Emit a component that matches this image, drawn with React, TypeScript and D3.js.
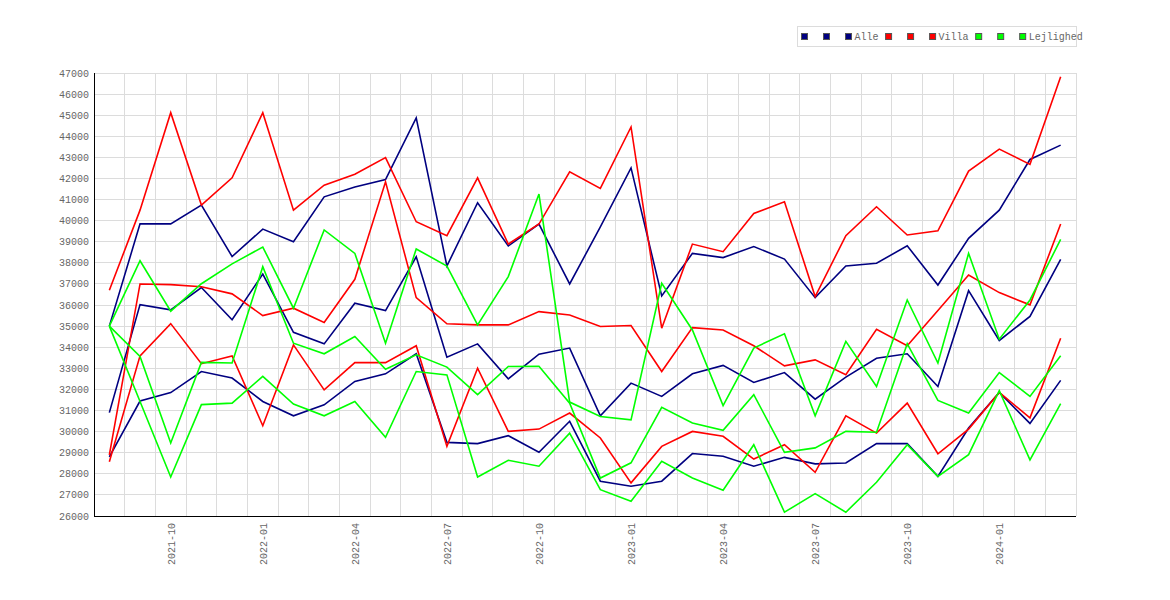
import React, { useEffect, useRef } from 'react';
import * as d3 from 'd3';

const months = [
  '2021-08', '2021-09', '2021-10', '2021-11', '2021-12', '2022-01', '2022-02', '2022-03',
  '2022-04', '2022-05', '2022-06', '2022-07', '2022-08', '2022-09', '2022-10', '2022-11',
  '2022-12', '2023-01', '2023-02', '2023-03', '2023-04', '2023-05', '2023-06', '2023-07',
  '2023-08', '2023-09', '2023-10', '2023-11', '2023-12', '2024-01', '2024-02', '2024-03',
];

const tickLabels = ['2021-10', '2022-01', '2022-04', '2022-07', '2022-10', '2023-01', '2023-04', '2023-07', '2023-10', '2024-01'];

// Alle
const alleHigh = [35000, 39850, 39850, 40740, 38300, 39600, 39000, 41130, 41600, 41950, 44870, 37850, 40850, 38800, 39840, 37000, 39700, 42500, 36430, 38450, 38250, 38770, 38180, 36350, 37850, 37980, 38810, 36950, 39160, 40500, 42900, 43580];
const alleMid = [30900, 36020, 35770, 36830, 35300, 37470, 34710, 34160, 36090, 35740, 38290, 33530, 34160, 32500, 33670, 33960, 30750, 32300, 31670, 32740, 33140, 32330, 32800, 31540, 32580, 33480, 33690, 32140, 36680, 34320, 35460, 38170];
const alleLow = [28800, 31450, 31850, 32850, 32540, 31430, 30750, 31270, 32380, 32740, 33690, 29490, 29430, 29810, 29020, 30490, 27650, 27410, 27650, 28960, 28830, 28360, 28780, 28470, 28510, 29430, 29430, 27880, 30170, 31860, 30390, 32430];

// Villa
const villaHigh = [36700, 40500, 45120, 40740, 42030, 45120, 40500, 41680, 42200, 42990, 39950, 39290, 42030, 38890, 39840, 42320, 41530, 44440, 34900, 38890, 38530, 40340, 40900, 36400, 39290, 40660, 39320, 39520, 42350, 43390, 42670, 46820];
const villaMid = [28900, 37000, 36970, 36870, 36530, 35500, 35850, 35170, 37220, 41840, 36350, 35110, 35060, 35060, 35690, 35530, 34980, 35030, 32850, 34930, 34820, 34070, 33120, 33400, 32700, 34850, 34070, 35740, 37420, 36590, 36010, 39840];
const villaLow = [28570, 33590, 35120, 33220, 33590, 30280, 34110, 31980, 33270, 33270, 34070, 29300, 33010, 30010, 30120, 30880, 29700, 27570, 29300, 30010, 29780, 28700, 29380, 28070, 30750, 29930, 31350, 28950, 30120, 31860, 30650, 34430];

// Lejlighed
const lejlHigh = [35000, 38100, 35710, 37010, 37950, 38750, 35850, 39560, 38450, 34190, 38660, 37850, 35060, 37350, 41260, 31400, 30720, 30560, 37030, 34820, 31230, 33960, 34640, 30750, 34280, 32140, 36240, 33250, 38450, 34380, 36240, 39110];
const lejlMid = [35000, 33560, 29460, 33280, 33250, 37820, 34190, 33690, 34510, 32960, 33640, 33060, 31750, 33090, 33100, 31350, 27800, 28520, 31150, 30410, 30060, 31750, 29020, 29230, 30010, 29970, 34170, 31480, 30880, 32800, 31670, 33600];
const lejlLow = [35000, 31430, 27850, 31280, 31350, 32620, 31310, 30750, 31430, 29730, 32850, 32690, 27850, 28640, 28360, 29930, 27250, 26700, 28590, 27800, 27220, 29380, 26180, 27060, 26180, 27600, 29380, 27880, 28910, 31940, 28660, 31330];

const groups = [
  { name: 'Alle', color: '#000080', series: [alleHigh, alleMid, alleLow] },
  { name: 'Villa', color: '#ff0000', series: [villaHigh, villaMid, villaLow] },
  { name: 'Lejlighed', color: '#00ff00', series: [lejlHigh, lejlMid, lejlLow] },
];

const yMin = 26000;
const yMax = 47000;

export default function App() {
  const svgRef = useRef<SVGSVGElement>(null);

  useEffect(() => {
    if (!svgRef.current) return;
    const width = 1170;
    const height = 600;
    const left = 94, right = 1076, top = 73, bottom = 516;
    const font = '"Liberation Mono", "DejaVu Sans Mono", monospace';
    const textColor = '#666';

    const svg = d3.select(svgRef.current);
    svg.selectAll('*').remove();
    svg.attr('width', width).attr('height', height);

    svg.append('rect').attr('width', width).attr('height', height).attr('fill', '#fff');

    const x = d3.scaleBand<string>().domain(months).range([left, right]).padding(0);
    const cx = (m: string) => (x(m) ?? 0) + x.bandwidth() / 2;
    const y = d3.scaleLinear().domain([yMin, yMax]).range([bottom, top]);

    // grid
    const grid = svg.append('g').attr('stroke', '#dcdcdc').attr('stroke-width', 1).attr('shape-rendering', 'crispEdges');
    grid.selectAll('line.h')
      .data(d3.range(yMin, yMax + 1, 1000))
      .join('line')
      .attr('class', 'h')
      .attr('x1', left).attr('x2', right)
      .attr('y1', d => y(d)).attr('y2', d => y(d));
    grid.selectAll('line.v')
      .data(months)
      .join('line')
      .attr('class', 'v')
      .attr('x1', d => (x(d) ?? 0) + x.bandwidth()).attr('x2', d => (x(d) ?? 0) + x.bandwidth())
      .attr('y1', top).attr('y2', bottom);

    // y tick labels
    svg.append('g')
      .selectAll('text')
      .data(d3.range(yMin, yMax + 1, 1000))
      .join('text')
      .attr('x', left - 5)
      .attr('y', d => y(d))
      .attr('dy', '0.35em')
      .attr('text-anchor', 'end')
      .attr('font-family', font)
      .attr('font-size', 10)
      .attr('fill', textColor)
      .text(d => String(d));

    // x tick labels
    svg.append('g')
      .selectAll('text')
      .data(tickLabels)
      .join('text')
      .attr('transform', d => `translate(${cx(d) + 0.5},${bottom + 7}) rotate(-90)`)
      .attr('dy', '0.35em')
      .attr('text-anchor', 'end')
      .attr('font-family', font)
      .attr('font-size', 10)
      .attr('fill', textColor)
      .text(d => d);

    // axes
    svg.append('line').attr('x1', left).attr('x2', left).attr('y1', top).attr('y2', bottom)
      .attr('stroke', '#000').attr('shape-rendering', 'crispEdges');
    svg.append('line').attr('x1', left).attr('x2', right).attr('y1', bottom).attr('y2', bottom)
      .attr('stroke', '#000').attr('shape-rendering', 'crispEdges');

    // lines
    const line = d3.line<number>()
      .x((d, i) => cx(months[i]))
      .y(d => y(d));

    groups.forEach(g => {
      g.series.forEach(s => {
        svg.append('path')
          .datum(s)
          .attr('fill', 'none')
          .attr('stroke', g.color)
          .attr('stroke-width', 1.6)
          .attr('d', line);
      });
    });

    // legend
    const legend = svg.append('g');
    legend.append('rect')
      .attr('x', 797.5).attr('y', 26.5).attr('width', 279).attr('height', 20)
      .attr('fill', '#fff').attr('stroke', '#dcdcdc');
    let lx = 801;
    groups.forEach(g => {
      for (let k = 0; k < 3; k++) {
        legend.append('rect')
          .attr('x', lx + k * 22 + 0.5).attr('y', 33.5).attr('width', 6).attr('height', 6)
          .attr('fill', g.color).attr('stroke', '#555');
      }
      const tx = lx + 44 + 9.5;
      legend.append('text')
        .attr('x', tx).attr('y', 36.5).attr('dy', '0.35em')
        .attr('font-family', font).attr('font-size', 10).attr('fill', textColor)
        .text(g.name);
      lx = tx + g.name.length * 6.02 + 6.5;
    });
  }, []);

  return (
    <svg ref={svgRef} style={{ position: 'absolute', left: 0, top: 0, display: 'block' }} />
  );
}
